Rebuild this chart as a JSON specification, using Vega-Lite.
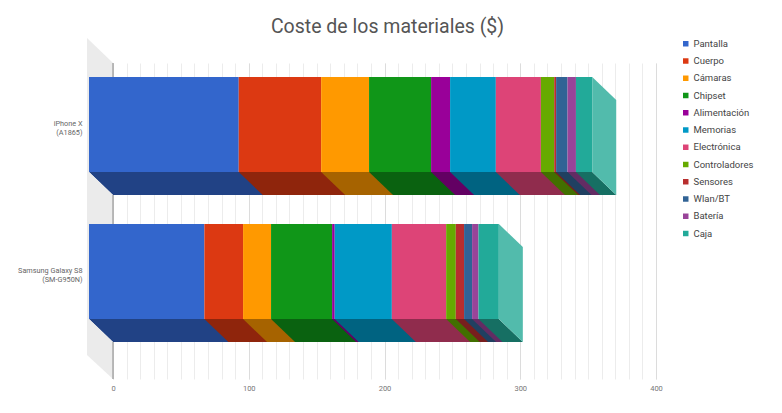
{
  "$schema": "https://vega.github.io/schema/vega-lite/v6.json",
  "width": 543,
  "height": 316,
  "autosize": {"type": "none"},
  "padding": {"left": 113, "top": 63, "right": 126, "bottom": 34},
  "background": "white",
  "title": {
    "text": "Coste de los materiales ($)",
    "font": "Roboto",
    "fontSize": 19.5,
    "fontWeight": "normal",
    "color": "#555555",
    "anchor": "middle",
    "baseline": "alphabetic",
    "offset": 6,
    "dy": 20,
    "dx": 3
  },
  "data": {
    "values": [
      {"movil": "iPhone X (A1865)", "parte": "Pantalla", "coste": 110.3, "orden": 1},
      {"movil": "iPhone X (A1865)", "parte": "Cuerpo", "coste": 60.7, "orden": 2},
      {"movil": "iPhone X (A1865)", "parte": "Cámaras", "coste": 35.3, "orden": 3},
      {"movil": "iPhone X (A1865)", "parte": "Chipset", "coste": 45.7, "orden": 4},
      {"movil": "iPhone X (A1865)", "parte": "Alimentación", "coste": 14.0, "orden": 5},
      {"movil": "iPhone X (A1865)", "parte": "Memorias", "coste": 33.7, "orden": 6},
      {"movil": "iPhone X (A1865)", "parte": "Electrónica", "coste": 33.2, "orden": 7},
      {"movil": "iPhone X (A1865)", "parte": "Controladores", "coste": 9.8, "orden": 8},
      {"movil": "iPhone X (A1865)", "parte": "Sensores", "coste": 1.4, "orden": 9},
      {"movil": "iPhone X (A1865)", "parte": "Wlan/BT", "coste": 8.4, "orden": 10},
      {"movil": "iPhone X (A1865)", "parte": "Batería", "coste": 6.2, "orden": 11},
      {"movil": "iPhone X (A1865)", "parte": "Caja", "coste": 12.0, "orden": 12},
      {"movil": "Samsung Galaxy S8 (SM-G950N)", "parte": "Pantalla", "coste": 85.0, "orden": 1},
      {"movil": "Samsung Galaxy S8 (SM-G950N)", "parte": "Cuerpo", "coste": 28.5, "orden": 2},
      {"movil": "Samsung Galaxy S8 (SM-G950N)", "parte": "Cámaras", "coste": 20.6, "orden": 3},
      {"movil": "Samsung Galaxy S8 (SM-G950N)", "parte": "Chipset", "coste": 45.0, "orden": 4},
      {"movil": "Samsung Galaxy S8 (SM-G950N)", "parte": "Alimentación", "coste": 1.9, "orden": 5},
      {"movil": "Samsung Galaxy S8 (SM-G950N)", "parte": "Memorias", "coste": 42.1, "orden": 6},
      {"movil": "Samsung Galaxy S8 (SM-G950N)", "parte": "Electrónica", "coste": 40.0, "orden": 7},
      {"movil": "Samsung Galaxy S8 (SM-G950N)", "parte": "Controladores", "coste": 7.1, "orden": 8},
      {"movil": "Samsung Galaxy S8 (SM-G950N)", "parte": "Sensores", "coste": 6.1, "orden": 9},
      {"movil": "Samsung Galaxy S8 (SM-G950N)", "parte": "Wlan/BT", "coste": 5.9, "orden": 10},
      {"movil": "Samsung Galaxy S8 (SM-G950N)", "parte": "Batería", "coste": 4.7, "orden": 11},
      {"movil": "Samsung Galaxy S8 (SM-G950N)", "parte": "Caja", "coste": 15.0, "orden": 12}
    ]
  },
  "transform": [
    {"stack": "coste", "groupby": ["movil"], "sort": [{"field": "orden", "order": "ascending"}], "as": ["inicio", "fin"]}
  ],
  "layer": [
    {
      "data": {"values": [{}]},
      "mark": {"type": "point", "shape": "M-26,-183L0,-158L0,158L-26,134Z", "size": 4, "filled": true, "fill": "#ebebeb", "opacity": 1, "strokeWidth": 0},
      "encoding": {
        "x": {
          "datum": 0,
          "type": "quantitative",
          "scale": {"domain": [0, 400], "nice": false},
          "axis": {
            "orient": "bottom",
            "title": null,
            "labels": false,
            "grid": true,
            "gridColor": "#ececec",
            "values": [0, 10, 20, 30, 40, 50, 60, 70, 80, 90, 100, 110, 120, 130, 140, 150, 160, 170, 180, 190, 200, 210, 220, 230, 240, 250, 260, 270, 280, 290, 300, 310, 320, 330, 340, 350, 360, 370, 380, 390, 400]
          }
        }
      }
    },
    {
      "data": {"values": [{}]},
      "mark": {"type": "rule", "color": "#a8a8a8", "strokeWidth": 1.5},
      "encoding": {
        "x": {"datum": 0, "type": "quantitative", "scale": {"domain": [0, 400], "nice": false}, "axis": null}
      }
    },
    {
      "mark": {"type": "point", "shape": "M0,47.5L-24,24.5L-184,24.5L-160,47.5Z", "size": 4, "filled": true, "opacity": 1, "strokeWidth": 0},
      "encoding": {
        "x": {"field": "fin", "type": "quantitative", "stack": null, "scale": {"domain": [0, 400], "nice": false}, "axis": null},
        "y": {"field": "movil", "type": "nominal", "scale": {"domain": ["iPhone X (A1865)", "Samsung Galaxy S8 (SM-G950N)"], "paddingInner": 0.353741, "paddingOuter": 0.251701}},
        "fill": {
          "field": "orden",
          "type": "ordinal",
          "scale": {
            "domain": [1, 2, 3, 4, 5, 6, 7, 8, 9, 10, 11, 12],
            "range": ["#214285", "#8f250c", "#a66300", "#0a6210", "#630063", "#006381", "#902c4d", "#426f00", "#781e1e", "#204061", "#632c63", "#166f63"]
          },
          "legend": null
        },
        "order": {"field": "orden", "type": "quantitative", "sort": "descending"}
      }
    },
    {
      "transform": [{"filter": "datum.orden == 1"}],
      "mark": {"type": "point", "shape": "M0,47.5L-24,24.5L-220,24.5L-220,47.5Z", "size": 4, "filled": true, "fill": "#ffffff", "opacity": 1, "strokeWidth": 0},
      "encoding": {
        "x": {"datum": 0, "type": "quantitative", "scale": {"domain": [0, 400], "nice": false}, "axis": null},
        "y": {"field": "movil", "type": "nominal", "scale": {"domain": ["iPhone X (A1865)", "Samsung Galaxy S8 (SM-G950N)"], "paddingInner": 0.353741, "paddingOuter": 0.251701}}
      }
    },
    {
      "transform": [{"filter": "datum.orden == 1"}],
      "mark": {"type": "point", "shape": "M0,47.5L-24,24.5L-26,24.5L-26,47.5Z", "size": 4, "filled": true, "fill": "#ebebeb", "opacity": 1, "strokeWidth": 0},
      "encoding": {
        "x": {"datum": 0, "type": "quantitative", "scale": {"domain": [0, 400], "nice": false}, "axis": null},
        "y": {"field": "movil", "type": "nominal", "scale": {"domain": ["iPhone X (A1865)", "Samsung Galaxy S8 (SM-G950N)"], "paddingInner": 0.353741, "paddingOuter": 0.251701}}
      }
    },
    {
      "mark": {"type": "bar", "xOffset": -24, "x2Offset": -24, "yOffset": -23, "y2Offset": -23},
      "encoding": {
        "x": {
          "field": "inicio",
          "type": "quantitative",
          "stack": null,
          "scale": {"domain": [0, 400], "nice": false},
          "axis": {
            "orient": "bottom",
            "title": null,
            "grid": true,
            "gridColor": "#dcdcdc",
            "values": [0, 100, 200, 300, 400]
          }
        },
        "x2": {"field": "fin"},
        "y": {
          "field": "movil",
          "type": "nominal",
          "scale": {"domain": ["iPhone X (A1865)", "Samsung Galaxy S8 (SM-G950N)"], "paddingInner": 0.353741, "paddingOuter": 0.251701},
          "axis": {
            "title": null,
            "labelExpr": "[slice(datum.label, 0, indexof(datum.label, ' (')), slice(datum.label, indexof(datum.label, ' (') + 1)]"
          }
        },
        "color": {
          "field": "parte",
          "type": "nominal",
          "scale": {
            "domain": ["Pantalla", "Cuerpo", "Cámaras", "Chipset", "Alimentación", "Memorias", "Electrónica", "Controladores", "Sensores", "Wlan/BT", "Batería", "Caja"],
            "range": ["#3366cc", "#dc3912", "#ff9900", "#109618", "#990099", "#0099c6", "#dd4477", "#66aa00", "#b82e2e", "#316395", "#994499", "#22aa99"]
          },
          "legend": {
            "title": null,
            "orient": "none",
            "legendX": 568,
            "legendY": -24,
            "symbolType": "square",
            "symbolSize": 30,
            "symbolStrokeWidth": 0,
            "labelFont": "Roboto",
            "labelFontSize": 9.5,
            "labelColor": "#444444",
            "labelOffset": 3,
            "rowPadding": 6.25
          }
        }
      }
    },
    {
      "transform": [{"filter": "datum.parte == 'Caja'"}],
      "mark": {"type": "point", "shape": "M-24,-70.5L0,-47.5L0,47.5L-24,24.5Z", "size": 4, "filled": true, "fill": "#52bbac", "opacity": 1, "strokeWidth": 0},
      "encoding": {
        "x": {"field": "fin", "type": "quantitative", "stack": null, "scale": {"domain": [0, 400], "nice": false}, "axis": null},
        "y": {"field": "movil", "type": "nominal", "scale": {"domain": ["iPhone X (A1865)", "Samsung Galaxy S8 (SM-G950N)"], "paddingInner": 0.353741, "paddingOuter": 0.251701}}
      }
    }
  ],
  "resolve": {"axis": {"x": "independent"}},
  "config": {
    "font": "Roboto",
    "view": {"stroke": null},
    "axisX": {
      "domain": false,
      "ticks": false,
      "grid": true,
      "gridWidth": 1,
      "labelOverlap": false,
      "labelFlush": false,
      "labelFont": "Roboto",
      "labelFontSize": 7.5,
      "labelColor": "#777777",
      "labelPadding": 5
    },
    "axisY": {
      "domain": false,
      "ticks": false,
      "grid": false,
      "labelPadding": 31,
      "labelOffset": -23.5,
      "labelFont": "Roboto",
      "labelFontSize": 7.3,
      "labelColor": "#666666",
      "labelLineHeight": 8.6,
      "labelLimit": 200
    }
  }
}
